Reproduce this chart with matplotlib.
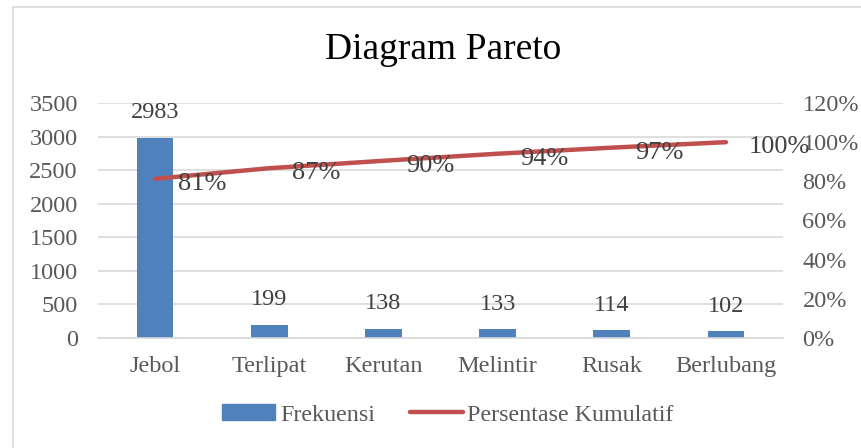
import matplotlib
matplotlib.use("Agg")
import matplotlib.pyplot as plt
from matplotlib.patches import Rectangle
from matplotlib.lines import Line2D
import numpy as np

categories = ["Jebol", "Terlipat", "Kerutan", "Melintir", "Rusak", "Berlubang"]
frekuensi = [2983, 199, 138, 133, 114, 102]
kumulatif = [0.813, 0.867, 0.905, 0.941, 0.972, 1.00]
kumulatif_labels = ["81%", "87%", "90%", "94%", "97%", "100%"]
left_ticks = [0, 500, 1000, 1500, 2000, 2500, 3000, 3500]
right_ticks = [0, 0.2, 0.4, 0.6, 0.8, 1.0, 1.2]
right_tick_labels = ["0%", "20%", "40%", "60%", "80%", "100%", "120%"]

W, H = 862, 448
plt.rcParams['font.family'] = ['Liberation Serif', 'DejaVu Serif']
fig = plt.figure(figsize=(W / 100, H / 100), dpi=100)

# chart frame
fig.patches.append(Rectangle((13 / W, -0.1), 1.2, (H - 7) / H + 0.1,
                             transform=fig.transFigure, fill=False,
                             edgecolor="#D9D9D9", linewidth=1.2))

ax = fig.add_axes([98 / W, (H - 338) / H, (783 - 98) / W, (338 - 103) / H])
x = np.arange(len(categories))
ax.bar(x, frekuensi, width=0.32, color="#4F81BD", zorder=2)
ax.set_xlim(-0.5, len(categories) - 0.5)
ax.set_ylim(0, 3500)
ax.set_yticks(left_ticks)
ax.set_xticks(x)
ax.set_xticklabels(categories)
ax.grid(axis="y", color="#D9D9D9", linewidth=1.2, zorder=0)
ax.set_axisbelow(True)
for s in ["top", "left", "right"]:
    ax.spines[s].set_visible(False)
ax.spines["bottom"].set_color("#D9D9D9")
ax.spines["bottom"].set_linewidth(1.2)
ax.tick_params(axis="both", length=0, labelsize=17.5, colors="#595959")
ax.tick_params(axis="y", pad=14.5)
ax.tick_params(axis="x", pad=13)

for xi, v in zip(x, frekuensi):
    ax.annotate(str(v), (xi, v), xytext=(0, 25), textcoords="offset pixels",
                ha="center", va="center", fontsize=17.5, color="#404040")

ax2 = ax.twinx()
ax2.set_ylim(0, 1.2)
ax2.set_yticks(right_ticks)
ax2.set_yticklabels(right_tick_labels)
for s in ["top", "left", "right", "bottom"]:
    ax2.spines[s].set_visible(False)
ax2.tick_params(axis="y", length=0, labelsize=17.5, colors="#595959", pad=14)
ax2.plot(x, kumulatif, color="#C0504D", linewidth=3.2, solid_capstyle="round", zorder=3)
for xi, v, lab in zip(x, kumulatif, kumulatif_labels):
    ax2.annotate(lab, (xi, v), xytext=(23, -5), textcoords="offset pixels",
                 ha="left", va="center", fontsize=19, color="#404040")

fig.text(443 / W, 1 - 50 / H, "Diagram Pareto", ha="center", va="center",
         fontsize=27, color="#000000")

handles = [Rectangle((0, 0), 1, 1, color="#4F81BD"),
           Line2D([0], [0], color="#C0504D", linewidth=3.2, solid_capstyle="round")]
leg = fig.legend(handles, ["Frekuensi", "Persentase Kumulatif"], loc="center",
                 bbox_to_anchor=(448 / W, 1 - 415 / H), ncol=2, frameon=False,
                 fontsize=17.3, handlelength=2.2, handletextpad=0.2,
                 columnspacing=1.45, handleheight=0.6)
for t in leg.get_texts():
    t.set_color("#595959")

fig.savefig("out.png", dpi=100)
